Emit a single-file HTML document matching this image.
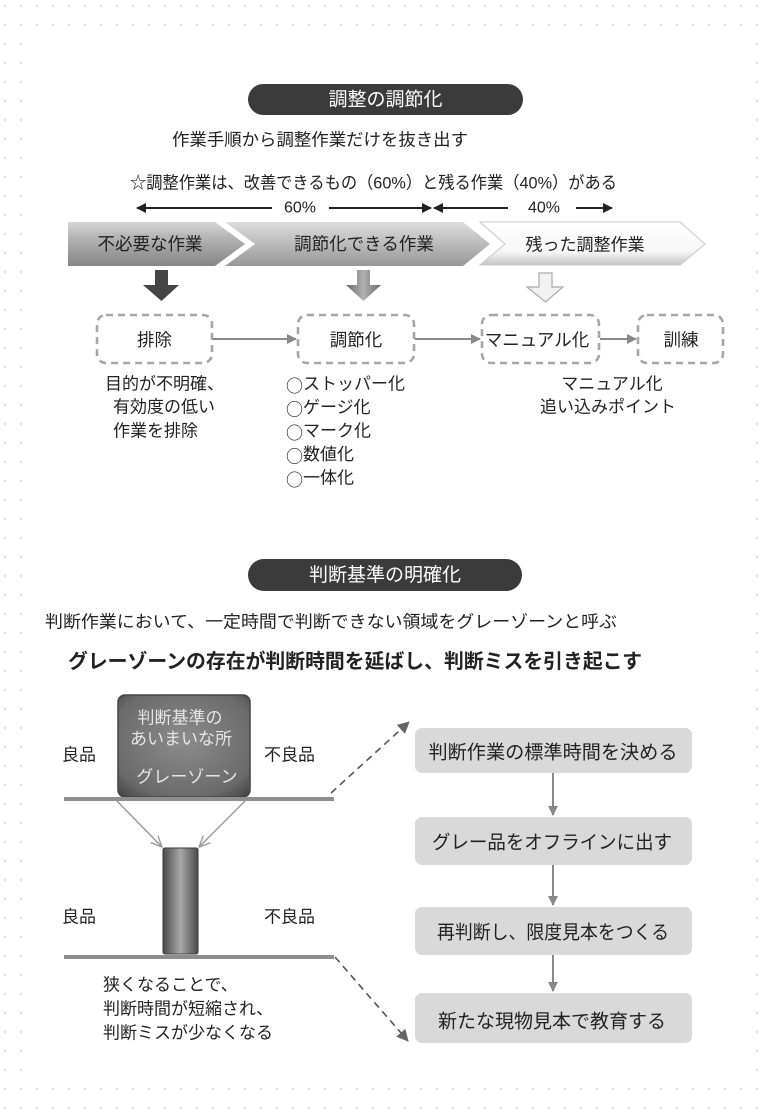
<!DOCTYPE html>
<html><head><meta charset="utf-8">
<style>
html,body{margin:0;padding:0;background:#fff;}
svg{display:block;}
text{font-family:"Liberation Sans","Noto Sans CJK JP",sans-serif;fill:#222;}
.cjk{font-family:"Noto Sans CJK JP",sans-serif;}
</style></head>
<body>
<svg width="766" height="1118" viewBox="0 0 766 1118" xmlns="http://www.w3.org/2000/svg">
<defs>
  <pattern id="dots" width="16" height="19" patternUnits="userSpaceOnUse">
    <circle cx="5" cy="6" r="1.2" fill="#dcdcdc"/>
  </pattern>
  <linearGradient id="g1" x1="0" y1="0" x2="0" y2="1">
    <stop offset="0" stop-color="#d6d6d6"/><stop offset="0.35" stop-color="#b4b4b4"/><stop offset="1" stop-color="#858585"/>
  </linearGradient>
  <linearGradient id="g2" x1="0" y1="0" x2="0" y2="1">
    <stop offset="0" stop-color="#dcdcdc"/><stop offset="0.4" stop-color="#c2c2c2"/><stop offset="1" stop-color="#979797"/>
  </linearGradient>
  <linearGradient id="g3" x1="0" y1="0" x2="0" y2="1">
    <stop offset="0" stop-color="#ffffff"/><stop offset="0.7" stop-color="#f6f6f6"/><stop offset="1" stop-color="#c4c4c4"/>
  </linearGradient>
  <linearGradient id="ga2" x1="0" y1="0" x2="1" y2="0">
    <stop offset="0" stop-color="#6a6a6a"/><stop offset="0.5" stop-color="#b0b0b0"/><stop offset="1" stop-color="#6a6a6a"/>
  </linearGradient>
  <radialGradient id="gbox" cx="0.5" cy="0.45" r="0.7">
    <stop offset="0" stop-color="#8c8c8c"/><stop offset="0.8" stop-color="#6a6a6a"/><stop offset="1" stop-color="#4a4a4a"/>
  </radialGradient>
  <linearGradient id="gbar" x1="0" y1="0" x2="1" y2="0">
    <stop offset="0" stop-color="#4a4a4a"/><stop offset="0.5" stop-color="#a8a8a8"/><stop offset="1" stop-color="#4a4a4a"/>
  </linearGradient>
  <marker id="ah" markerWidth="10" markerHeight="10" refX="9" refY="5" orient="auto" markerUnits="userSpaceOnUse">
    <path d="M0,0 L10,5 L0,10 z" fill="#222"/>
  </marker>
  <marker id="ahg" markerWidth="10" markerHeight="10" refX="9" refY="5" orient="auto" markerUnits="userSpaceOnUse">
    <path d="M0,0 L10,5 L0,10 z" fill="#888"/>
  </marker>
  <marker id="ahd" markerWidth="12" markerHeight="12" refX="11" refY="6" orient="auto" markerUnits="userSpaceOnUse">
    <path d="M0,0 L12,6 L0,12 z" fill="#666"/>
  </marker>
  <marker id="ahv" markerWidth="12" markerHeight="12" refX="11" refY="6" orient="auto" markerUnits="userSpaceOnUse">
    <path d="M0,1 L11,6 L0,11" fill="none" stroke="#999" stroke-width="1.4"/>
  </marker>
</defs>

<!-- faint scanned border dots -->
<rect x="0" y="0" width="766" height="34" fill="url(#dots)"/>
<rect x="0" y="34" width="24" height="1050" fill="url(#dots)"/>
<rect x="742" y="34" width="24" height="1050" fill="url(#dots)"/>
<rect x="0" y="1084" width="766" height="34" fill="url(#dots)"/>

<!-- ===== Section 1 ===== -->
<rect x="248" y="84" width="275" height="31" rx="15.5" fill="#3b3b3b"/>
<text x="385.5" y="100" font-size="19" text-anchor="middle" dominant-baseline="central" style="fill:#fff">調整の調節化</text>

<text x="172" y="140" font-size="17" dominant-baseline="central" textLength="296" lengthAdjust="spacingAndGlyphs">作業手順から調整作業だけを抜き出す</text>
<text x="130" y="183" font-size="17" dominant-baseline="central" textLength="487" lengthAdjust="spacingAndGlyphs">☆調整作業は、改善できるもの（60%）と残る作業（40%）がある</text>

<!-- 60% / 40% arrows -->
<line x1="272" y1="208" x2="137" y2="208" stroke="#222" stroke-width="2" marker-end="url(#ah)"/>
<text x="300" y="208" font-size="16" text-anchor="middle" dominant-baseline="central">60%</text>
<line x1="329" y1="208" x2="431" y2="208" stroke="#222" stroke-width="2" marker-end="url(#ah)"/>
<line x1="508" y1="208" x2="434" y2="208" stroke="#222" stroke-width="2" marker-end="url(#ah)"/>
<text x="544" y="208" font-size="16" text-anchor="middle" dominant-baseline="central">40%</text>
<line x1="576" y1="208" x2="612" y2="208" stroke="#222" stroke-width="2" marker-end="url(#ah)"/>

<!-- chevrons -->
<polygon points="480,222 680,222 705,244 680,265 480,265 505,244" fill="url(#g3)" stroke="#c8c8c8" stroke-width="1"/>
<polygon points="225,222 463,222 490,244 463,266 225,266 255,244" fill="url(#g2)"/>
<polygon points="68,222 215,222 245,244 215,266 68,266" fill="url(#g1)"/>
<text x="150" y="244" font-size="17.5" text-anchor="middle" dominant-baseline="central">不必要な作業</text>
<text x="364" y="244" font-size="17.5" text-anchor="middle" dominant-baseline="central">調節化できる作業</text>
<text x="585" y="245" font-size="17" text-anchor="middle" dominant-baseline="central">残った調整作業</text>

<!-- down block arrows -->
<polygon points="155,270 168,270 168,285 179,285 161.5,301 143,285 155,285" fill="#454545"/>
<polygon points="357,270 370,270 370,285 381,285 363.5,301 346,285 357,285" fill="url(#ga2)"/>
<polygon points="539,273 552,273 552,287 563,287 545.5,302 527,287 539,287" fill="#f2f2f2" stroke="#aaa" stroke-width="1.2"/>

<!-- dashed boxes -->
<g fill="none" stroke="#a6a6a6" stroke-width="2.6" stroke-dasharray="7,5">
  <rect x="97" y="315" width="115" height="48" rx="9"/>
  <rect x="298" y="315" width="116" height="48" rx="9"/>
  <rect x="482" y="315" width="117" height="48" rx="9"/>
  <rect x="638" y="315" width="85" height="48" rx="9"/>
</g>
<g stroke="#888" stroke-width="2">
  <line x1="213" y1="339" x2="296" y2="339" marker-end="url(#ahg)"/>
  <line x1="415" y1="339" x2="480" y2="339" marker-end="url(#ahg)"/>
  <line x1="600" y1="339" x2="636" y2="339" marker-end="url(#ahg)"/>
</g>
<text x="154.5" y="340" font-size="17.5" text-anchor="middle" dominant-baseline="central">排除</text>
<text x="356" y="340" font-size="17.5" text-anchor="middle" dominant-baseline="central">調節化</text>
<text x="537" y="340" font-size="17.5" text-anchor="middle" dominant-baseline="central">マニュアル化</text>
<text x="681" y="340" font-size="17.5" text-anchor="middle" dominant-baseline="central">訓練</text>

<!-- below texts -->
<g font-size="17">
  <text x="105" y="384" dominant-baseline="central">目的が不明確、</text>
  <text x="113" y="407" dominant-baseline="central">有効度の低い</text>
  <text x="113" y="431" dominant-baseline="central">作業を排除</text>
  <text x="286" y="384" dominant-baseline="central"><tspan class="cjk">○</tspan>ストッパー化</text>
  <text x="286" y="407.5" dominant-baseline="central"><tspan class="cjk">○</tspan>ゲージ化</text>
  <text x="286" y="431" dominant-baseline="central"><tspan class="cjk">○</tspan>マーク化</text>
  <text x="286" y="454.5" dominant-baseline="central"><tspan class="cjk">○</tspan>数値化</text>
  <text x="286" y="478" dominant-baseline="central"><tspan class="cjk">○</tspan>一体化</text>
  <text x="612" y="384" text-anchor="middle" dominant-baseline="central">マニュアル化</text>
  <text x="608" y="407" text-anchor="middle" dominant-baseline="central">追い込みポイント</text>
</g>

<!-- ===== Section 2 ===== -->
<rect x="248" y="559" width="274" height="32" rx="16" fill="#3b3b3b"/>
<text x="385" y="575.5" font-size="19" text-anchor="middle" dominant-baseline="central" style="fill:#fff">判断基準の明確化</text>

<text x="45" y="622" font-size="17" dominant-baseline="central" textLength="572" lengthAdjust="spacingAndGlyphs">判断作業において、一定時間で判断できない領域をグレーゾーンと呼ぶ</text>
<text x="68" y="662" font-size="20" font-weight="bold" dominant-baseline="central" textLength="574" lengthAdjust="spacingAndGlyphs">グレーゾーンの存在が判断時間を延ばし、判断ミスを引き起こす</text>

<!-- gray zone box -->
<rect x="118" y="695" width="132" height="102" rx="7" fill="url(#gbox)" stroke="#444" stroke-width="1.5"/>
<g font-size="17" text-anchor="middle">
  <text x="180" y="718" dominant-baseline="central" style="fill:#e6e6e6">判断基準の</text>
  <text x="181" y="739" dominant-baseline="central" style="fill:#e6e6e6">あいまいな所</text>
  <text x="187" y="777" dominant-baseline="central" style="fill:#e6e6e6">グレーゾーン</text>
</g>
<text x="62" y="755" font-size="17" dominant-baseline="central">良品</text>
<text x="264" y="755" font-size="17" dominant-baseline="central">不良品</text>
<rect x="64" y="797" width="270" height="4" fill="#8e8e8e"/>

<!-- converging arrows -->
<line x1="116" y1="800" x2="162" y2="847" stroke="#999" stroke-width="1.4" marker-end="url(#ahv)"/>
<line x1="246" y1="800" x2="199" y2="847" stroke="#999" stroke-width="1.4" marker-end="url(#ahv)"/>

<!-- narrow bar -->
<rect x="163" y="848" width="35" height="106" rx="2" fill="url(#gbar)" stroke="#3a3a3a" stroke-width="1"/>
<text x="62" y="917" font-size="17" dominant-baseline="central">良品</text>
<text x="264" y="917" font-size="17" dominant-baseline="central">不良品</text>
<rect x="64" y="955" width="270" height="4" fill="#8e8e8e"/>

<g font-size="17">
  <text x="103" y="985" dominant-baseline="central">狭くなることで、</text>
  <text x="103" y="1009" dominant-baseline="central">判断時間が短縮され、</text>
  <text x="103" y="1033" dominant-baseline="central">判断ミスが少なくなる</text>
</g>

<!-- dashed diagonal connectors -->
<line x1="331" y1="793" x2="409" y2="722" stroke="#555" stroke-width="1.6" stroke-dasharray="7,5" marker-end="url(#ahd)"/>
<line x1="335" y1="957" x2="408" y2="1041" stroke="#555" stroke-width="1.6" stroke-dasharray="7,5" marker-end="url(#ahd)"/>

<!-- right process boxes -->
<g fill="#d9d9d9">
  <rect x="415" y="728" width="277" height="45" rx="7"/>
  <rect x="415" y="817" width="277" height="48" rx="7"/>
  <rect x="415" y="907" width="277" height="48" rx="7"/>
  <rect x="415" y="993" width="277" height="50" rx="7"/>
</g>
<g stroke="#888" stroke-width="2">
  <line x1="553" y1="773" x2="553" y2="815" marker-end="url(#ahg)"/>
  <line x1="553" y1="865" x2="553" y2="905" marker-end="url(#ahg)"/>
  <line x1="553" y1="955" x2="553" y2="991" marker-end="url(#ahg)"/>
</g>
<g font-size="19" text-anchor="middle">
  <text x="553" y="753" dominant-baseline="central" textLength="249" lengthAdjust="spacingAndGlyphs">判断作業の標準時間を決める</text>
  <text x="552" y="843" dominant-baseline="central" textLength="240" lengthAdjust="spacingAndGlyphs">グレー品をオフラインに出す</text>
  <text x="553" y="933" dominant-baseline="central" textLength="232" lengthAdjust="spacingAndGlyphs">再判断し、限度見本をつくる</text>
  <text x="552" y="1022" dominant-baseline="central" textLength="228" lengthAdjust="spacingAndGlyphs">新たな現物見本で教育する</text>
</g>
</svg>
</body></html>
